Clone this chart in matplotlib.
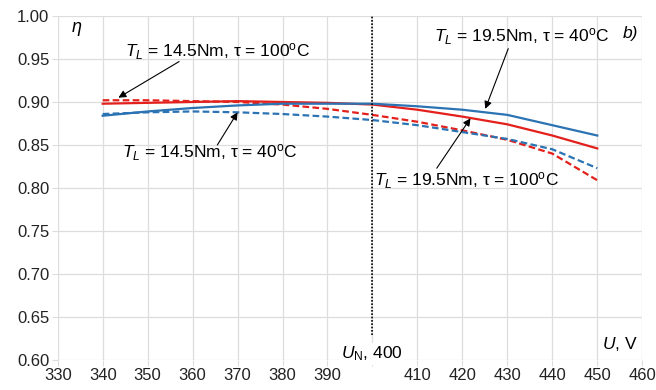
import matplotlib.pyplot as plt

plt.rcParams['font.family'] = ['Liberation Sans', 'DejaVu Sans']
plt.rcParams['mathtext.fontset'] = 'custom'
plt.rcParams['mathtext.rm'] = 'Liberation Sans'
plt.rcParams['mathtext.it'] = 'Liberation Sans:italic'

# supply voltage, V
voltage = [340, 350, 360, 370, 380, 390, 400, 410, 420, 430, 440, 450]

# efficiency
eta_195_100 = [0.898, 0.899, 0.900, 0.901, 0.900, 0.899, 0.897, 0.891, 0.883, 0.874, 0.861, 0.846]
eta_195_40 = [0.884, 0.889, 0.893, 0.896, 0.898, 0.898, 0.898, 0.895, 0.891, 0.885, 0.873, 0.861]
eta_145_100 = [0.902, 0.902, 0.901, 0.900, 0.897, 0.892, 0.885, 0.877, 0.867, 0.856, 0.840, 0.809]
eta_145_40 = [0.886, 0.888, 0.889, 0.888, 0.886, 0.883, 0.879, 0.873, 0.865, 0.857, 0.845, 0.823]

x_ticks = [330, 340, 350, 360, 370, 380, 390, 400, 410, 420, 430, 440, 450, 460]
x_labels = ['330', '340', '350', '360', '370', '380', '390', '', '410', '420', '430', '440', '450', '460']
y_ticks = [0.60, 0.65, 0.70, 0.75, 0.80, 0.85, 0.90, 0.95, 1.00]

red = '#e3201b'
blue = '#2b73b3'

fig = plt.figure(figsize=(6.56, 3.9), dpi=100)
ax = fig.add_axes([0.088, 0.077, 0.891, 0.882])

ax.plot(voltage, eta_145_100, color=red, lw=1.6, ls=(0, (3, 1.5)))
ax.plot(voltage, eta_145_40, color=blue, lw=1.6, ls=(0, (3, 1.5)))
ax.plot(voltage, eta_195_100, color=red, lw=1.6)
ax.plot(voltage, eta_195_40, color=blue, lw=1.6)

# nominal voltage line
ax.plot([400, 400], [0.629, 1.0], color='black', lw=1.2, ls=(0, (1, 1)))

ax.set_xlim(330, 460)
ax.set_ylim(0.60, 1.00)
ax.set_xticks(x_ticks)
ax.set_xticklabels(x_labels)
ax.set_yticks(y_ticks)
ax.set_yticklabels(['%.2f' % v for v in y_ticks])
ax.grid(True, color='#dddddd', lw=0.9)
ax.set_axisbelow(True)
for s in ax.spines.values():
    s.set_visible(False)
ax.tick_params(labelsize=12, length=4, pad=2, labelcolor='#222222', color='#dddddd')

fs = 12.5
arrow = dict(arrowstyle='-|>', color='black', lw=0.8, mutation_scale=11, shrinkA=0, shrinkB=0)

def label(txt, pos, start, tip):
    ax.text(pos[0], pos[1], txt, ha='center', va='center', fontsize=fs)
    ax.annotate('', xy=tip, xytext=start, arrowprops=arrow)

label(r'$T_L$ = 14.5Nm, τ = 100$^{\rm o}$C', (365.5, 0.958), (357.0, 0.947), (343.5, 0.905))
label(r'$T_L$ = 14.5Nm, τ = 40$^{\rm o}$C', (363.7, 0.841), (365.5, 0.850), (370.0, 0.888))
label(r'$T_L$ = 19.5Nm, τ = 40$^{\rm o}$C', (433.1, 0.976), (430.2, 0.962), (425.1, 0.892))
label(r'$T_L$ = 19.5Nm, τ = 100$^{\rm o}$C', (420.9, 0.809), (414.3, 0.823), (421.8, 0.881))

ax.text(333, 0.985, r'$\eta$', fontsize=13, ha='left', va='center')
ax.text(459, 0.980, 'b)', fontsize=12.5, style='italic', ha='right', va='center')
ax.text(399.8, 0.607, r'$U_{\rm N}$, 400', fontsize=12.5, ha='center', va='center',
        bbox=dict(facecolor='white', edgecolor='none', pad=1))
ax.text(459, 0.619, r'$U$, V', fontsize=12.5, ha='right', va='center')

fig.savefig('out.png', dpi=100)
